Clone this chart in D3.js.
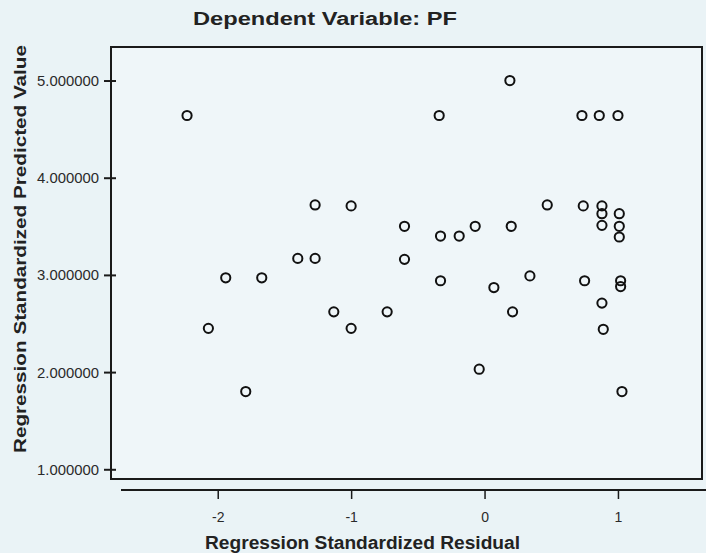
<!DOCTYPE html>
<html lang="en">
<head>
<meta charset="utf-8">
<title>Scatterplot</title>
<script src="https://cdn.jsdelivr.net/npm/d3@7"></script>
<style>
  body { margin: 0; background: #eaf3f6; }
  svg { font-family: "Liberation Sans", Arial, sans-serif; }
</style>
</head>
<body>
<script>
// residuals (x) and predicted values (y)
var residual = [-2.23, -2.07, -1.94, -1.79, -1.67, -1.40, -1.27, -1.27, -1.13, -1.00,
  -1.00, -0.73, -0.60, -0.60, -0.34, -0.33, -0.33, -0.19, -0.07, -0.04,
  0.07, 0.19, 0.20, 0.21, 0.34, 0.47, 0.73, 0.74, 0.75, 0.86,
  0.88, 0.88, 0.88, 0.88, 0.89, 1.00, 1.01, 1.01, 1.01, 1.02, 1.02, 1.03];
var predicted = [4.64, 2.45, 2.97, 1.80, 2.97, 3.17, 3.72, 3.17, 2.62, 3.71,
  2.45, 2.62, 3.50, 3.16, 4.64, 3.40, 2.94, 3.40, 3.50, 2.03,
  2.87, 5.00, 3.50, 2.62, 2.99, 3.72, 4.64, 3.71, 2.94, 4.64,
  3.71, 3.63, 3.51, 2.71, 2.44, 4.64, 3.63, 3.50, 3.39, 2.94, 2.88, 1.80];
var xTicks = [-2, -1, 0, 1];
var yTicks = [1, 2, 3, 4, 5];

var width = 706, height = 553;
var box = { left: 111, top: 47, right: 702, bottom: 479 };

var svg = d3.select("body").append("svg")
  .attr("width", width)
  .attr("height", height);

var x = d3.scaleLinear().domain([-2.8, 1.63]).range([box.left, box.right]);
var y = d3.scaleLinear().domain([0.9, 5.345]).range([box.bottom, box.top]);

// plot frame
svg.append("rect")
  .attr("x", box.left).attr("y", box.top)
  .attr("width", box.right - box.left).attr("height", box.bottom - box.top)
  .attr("fill", "#eff6f9")
  .attr("stroke", "#1a1a1a")
  .attr("stroke-width", 2);

// y axis
var yAxis = svg.append("g")
  .attr("transform", "translate(" + box.left + ",0)")
  .call(d3.axisLeft(y).tickValues(yTicks).tickSize(7)
    .tickFormat(function (d) { return d.toFixed(6); }));
yAxis.select(".domain").remove();
yAxis.selectAll(".tick line").attr("x1", 5).attr("stroke", "#1a1a1a").attr("stroke-width", 2);
yAxis.selectAll(".tick text")
  .attr("x", -12).attr("dy", "0.36em")
  .attr("font-size", 14).attr("fill", "#2a2a2a")
  .attr("textLength", 62).attr("lengthAdjust", "spacingAndGlyphs");

// x axis, drawn below the frame
var xAxisY = 490;
var xAxis = svg.append("g")
  .attr("transform", "translate(0," + xAxisY + ")")
  .call(d3.axisBottom(x).tickValues(xTicks).tickSize(9)
    .tickFormat(function (d) { return String(d); }));
xAxis.select(".domain").remove();
xAxis.append("line")
  .attr("x1", 121).attr("x2", width).attr("y1", 0).attr("y2", 0)
  .attr("stroke", "#1a1a1a").attr("stroke-width", 2);
xAxis.selectAll(".tick line").attr("stroke", "#1a1a1a").attr("stroke-width", 1.5);
xAxis.selectAll(".tick text").attr("y", 22).attr("font-size", 14).attr("fill", "#2a2a2a");

// points
svg.append("g").selectAll("circle")
  .data(residual.map(function (r, i) { return [r, predicted[i]]; }))
  .enter()
  .append("circle")
  .attr("cx", function (d) { return x(d[0]); })
  .attr("cy", function (d) { return y(d[1]); })
  .attr("r", 4.6)
  .attr("fill", "none")
  .attr("stroke", "#111")
  .attr("stroke-width", 2);

// titles
svg.append("text")
  .attr("x", 193).attr("y", 25)
  .attr("font-size", 18).attr("font-weight", "bold").attr("fill", "#222")
  .attr("textLength", 264).attr("lengthAdjust", "spacingAndGlyphs")
  .text("Dependent Variable: PF");

svg.append("text")
  .attr("x", 205).attr("y", 549)
  .attr("font-size", 18).attr("font-weight", "bold").attr("fill", "#222")
  .attr("textLength", 315).attr("lengthAdjust", "spacingAndGlyphs")
  .text("Regression Standardized Residual");

svg.append("text")
  .attr("transform", "translate(26,453)rotate(-90)")
  .attr("font-size", 17).attr("font-weight", "bold").attr("fill", "#222")
  .attr("textLength", 408).attr("lengthAdjust", "spacingAndGlyphs")
  .text("Regression Standardized Predicted Value");
</script>
</body>
</html>
